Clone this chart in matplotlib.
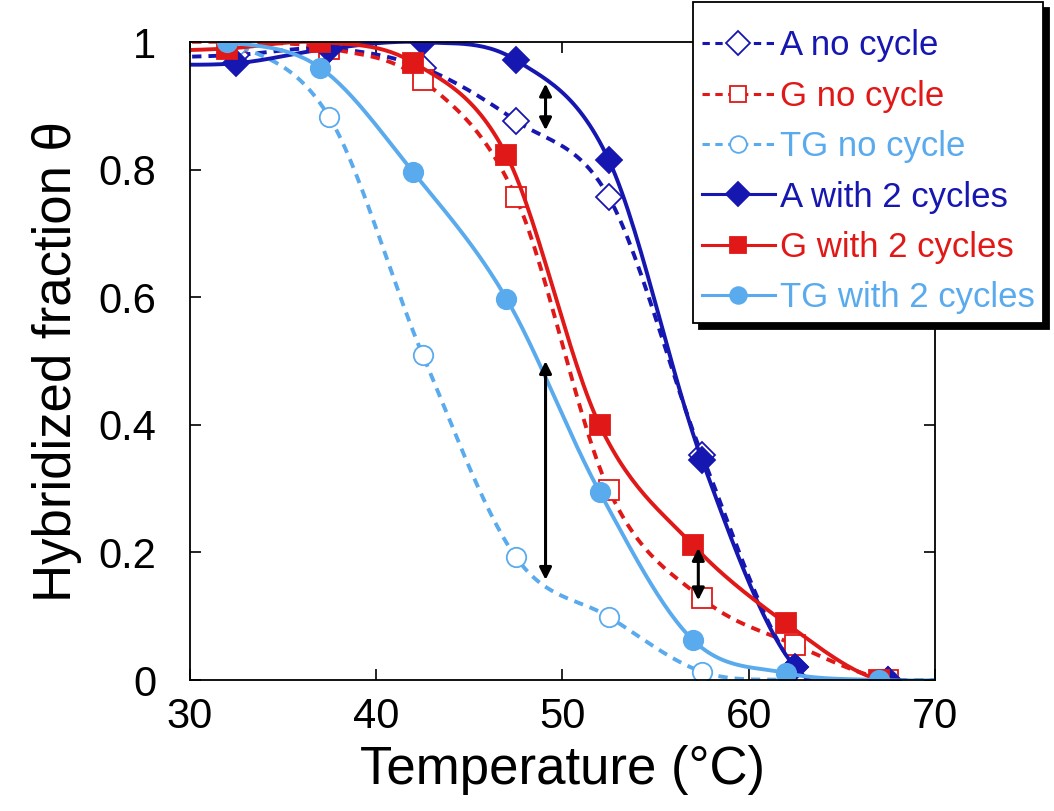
import numpy as np
import matplotlib
matplotlib.use("Agg")
import matplotlib.pyplot as plt

plt.rcParams['font.family'] = ['Liberation Sans', 'DejaVu Sans']

# melting curves, hybridized fraction vs temperature
temp_a = [27.5, 32.5, 37.5, 42.5, 47.5, 52.5, 57.5, 62.5, 67.5, 72.5]
a_no_cycle = [0.975, 0.98, 0.99, 0.96, 0.877, 0.757, 0.353, 0.02, 0.0, 0.0]
a_cycles = [0.965, 0.967, 0.99, 1.0, 0.972, 0.815, 0.345, 0.02, 0.0, 0.0]

temp_g_open = [27.5, 32.5, 37.5, 42.5, 47.5, 52.5, 57.5, 62.5, 67.5, 72.5]
g_no_cycle = [1.0, 1.0, 0.99, 0.94, 0.757, 0.298, 0.128, 0.055, 0.0, 0.0]
temp_g = [27.0, 32.0, 37.0, 42.0, 47.0, 52.0, 57.0, 62.0, 67.0, 72.0]
g_cycles = [0.985, 0.99, 1.0, 0.968, 0.823, 0.40, 0.212, 0.089, 0.0, 0.0]

temp_tg_open = [27.5, 32.5, 37.5, 42.5, 47.5, 52.5, 57.5, 62.5, 67.5, 72.5]
tg_no_cycle = [1.0, 0.995, 0.882, 0.51, 0.193, 0.099, 0.013, 0.0, 0.0, 0.0]
temp_tg = [27.0, 32.0, 37.0, 42.0, 47.0, 52.0, 57.0, 62.0, 67.0, 72.0]
tg_cycles = [1.0, 1.0, 0.96, 0.796, 0.598, 0.295, 0.063, 0.011, 0.0, 0.0]

# double arrows: x, y_low, y_high
arrows = [(49.1, 0.862, 0.935), (49.1, 0.157, 0.50), (57.3, 0.125, 0.207)]

DARK = '#1616b0'
RED = '#e01818'
LIGHT = '#5aaaee'


def smooth(x, y, n=30):
    # Catmull-Rom through the points, scaled so both axes weigh alike
    p = np.column_stack([np.asarray(x) / 40.0, np.asarray(y)])
    p = np.vstack([2 * p[0] - p[1], p, 2 * p[-1] - p[-2]])
    t = np.linspace(0, 1, n)[:, None]
    out = []
    for i in range(1, len(p) - 2):
        p0, p1, p2, p3 = p[i - 1], p[i], p[i + 1], p[i + 2]
        seg = 0.5 * ((2 * p1) + (-p0 + p2) * t
                     + (2 * p0 - 5 * p1 + 4 * p2 - p3) * t ** 2
                     + (-p0 + 3 * p1 - 3 * p2 + p3) * t ** 3)
        out.append(seg)
    out = np.vstack(out)
    return out[:, 0] * 40.0, out[:, 1]


fig = plt.figure(figsize=(10.54, 8.11), dpi=100)
ax = fig.add_axes([0.180, 0.1615, 0.707, 0.7865])

series = [
    (temp_a, a_no_cycle, DARK, '--', 'D', 'white', 'A no cycle'),
    (temp_g_open, g_no_cycle, RED, '--', 's', 'white', 'G no cycle'),
    (temp_tg_open, tg_no_cycle, LIGHT, '--', 'o', 'white', 'TG no cycle'),
    (temp_a, a_cycles, DARK, '-', 'D', DARK, 'A with 2 cycles'),
    (temp_g, g_cycles, RED, '-', 's', RED, 'G with 2 cycles'),
    (temp_tg, tg_cycles, LIGHT, '-', 'o', LIGHT, 'TG with 2 cycles'),
]

handles = []
for x, y, c, ls, mk, fc, lab in series:
    sx, sy = smooth(x, y)
    ax.plot(sx, sy, color=c, ls=ls, lw=2.8, dashes=(2.4, 1.8) if ls == '--' else (None, None))
    ax.plot(x, y, ls='none', marker=mk, ms=13 if mk == 'D' else 14,
            mfc=fc, mec=c, mew=1.3)
    h, = ax.plot([], [], color=c, ls=ls, lw=2.2, marker=mk, ms=12,
                 mfc=fc, mec=c, mew=1.3,
                 dashes=(2.4, 1.8) if ls == '--' else (None, None))
    handles.append((h, lab, c))

for xa, y0, y1 in arrows:
    ax.annotate('', xy=(xa, y0), xytext=(xa, y1),
                arrowprops=dict(arrowstyle='<|-|>', color='black', lw=2.2,
                                mutation_scale=18, shrinkA=0, shrinkB=0))

ax.set_xlim(30, 70)
ax.set_ylim(0, 1)
ax.set_xticks([30, 40, 50, 60, 70])
ax.set_yticks([0, 0.2, 0.4, 0.6, 0.8, 1])
ax.set_yticklabels(['0', '0.2', '0.4', '0.6', '0.8', '1'])
ax.tick_params(direction='in', top=True, right=True, length=8, width=1.2,
               labelsize=30)
ax.tick_params(axis='y', pad=24)
ax.tick_params(axis='x', pad=12)
for s in ax.spines.values():
    s.set_linewidth(1.3)

ax.set_xlabel('Temperature (°C)', fontsize=38, labelpad=6)
ax.set_ylabel('Hybridized fraction θ', fontsize=38, labelpad=12)

# a blank tiny title gives the box some extra room above the first row
leg = fig.legend([h for h, _, _ in handles], [l for _, l, _ in handles],
                 loc='upper right', bbox_to_anchor=(0.99, 0.997),
                 fontsize=25, frameon=True, fancybox=False,
                 shadow={'ox': 4, 'oy': -4, 'color': 'black', 'alpha': 1},
                 title=' ', title_fontsize=1,
                 handlelength=2.1, handletextpad=0.15, labelspacing=0.5,
                 borderpad=0.25, borderaxespad=0, framealpha=1)
leg.get_frame().set_edgecolor('black')
leg.get_frame().set_linewidth(1.3)
for txt, (_, _, c) in zip(leg.get_texts(), handles):
    txt.set_color(c)

fig.savefig('out.png', dpi=100)
